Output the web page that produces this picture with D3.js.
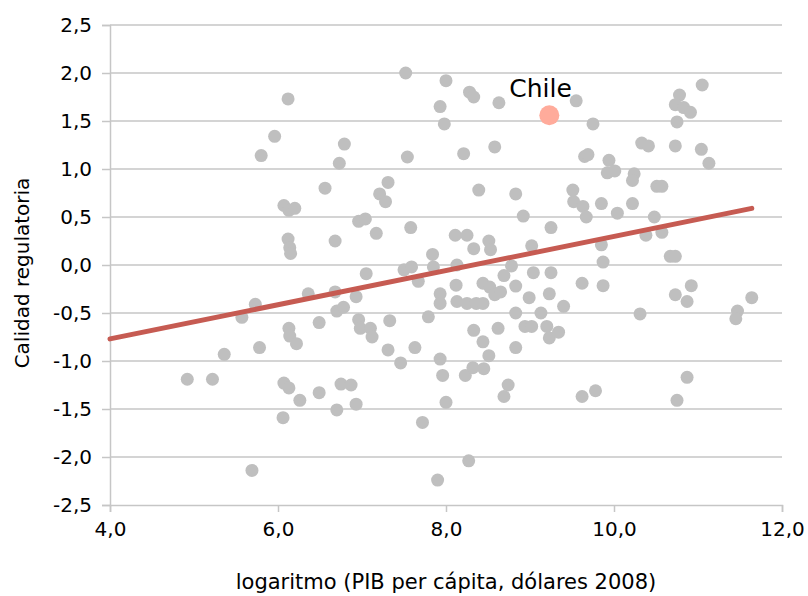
<!DOCTYPE html>
<html>
<head>
<meta charset="utf-8">
<script src="https://cdn.jsdelivr.net/npm/d3@7"></script>
<style>
  body { margin: 0; background: #fff; }
  text { font-family: "DejaVu Sans", sans-serif; fill: #000; }
</style>
</head>
<body>
<svg id="chart" width="808" height="596"></svg>
<script>
/////////////////////////////////// DONNEES ///////////////////////////////////
// log del PIB per cápita (eje x) y calidad regulatoria (eje y)
var gdpLog = [
  6.12, 5.96, 5.80, 6.79, 6.73, 6.56, 6.07, 6.13, 6.20, 6.12, 6.14, 6.15, 6.68,
  7.52, 8.00, 8.28, 8.33, 8.63, 7.93, 7.98, 7.54, 8.21, 8.58, 7.31, 7.21, 7.28,
  8.39, 8.83, 9.51, 9.52, 6.96, 7.04, 7.17, 7.58, 8.11, 8.25, 8.92, 9.25, 8.51,
  8.53, 8.33, 9.02, 7.84,
  11.05, 10.78, 10.73, 10.83, 10.91, 10.75, 9.55, 9.75, 9.65, 9.69, 10.33, 10.41,
  10.73, 11.04, 11.13, 9.94, 9.92, 10.01, 10.24, 10.22, 10.51, 10.57, 9.63, 9.67,
  9.85, 10.04, 10.22, 10.48, 10.38, 10.57, 9.85, 9.87, 10.67, 10.73,
  5.73, 5.57, 5.36, 4.92, 5.22, 5.78, 6.13, 6.14, 6.22, 6.36, 6.68, 6.70, 6.49,
  6.07, 6.13, 6.26, 6.49, 6.06, 5.69, 6.75, 6.87, 6.70, 6.93,
  7.05, 7.50, 7.59, 7.85, 8.13, 8.78, 7.67, 6.78, 6.93, 6.96, 6.98, 7.10, 7.12,
  7.33, 7.31, 7.46, 7.63, 7.79, 7.93, 7.93, 7.93, 7.96, 8.00, 7.72, 7.90, 8.27,
  8.12, 8.13, 8.25, 8.36, 8.44, 8.44, 8.52, 8.58, 8.65, 8.69, 8.83, 8.99, 9.04,
  9.25, 9.23, 9.40, 8.83, 9.13, 8.94, 9.02, 9.20, 9.23, 9.34, 8.33, 8.62, 8.44,
  8.51, 8.83, 8.23, 8.32, 8.45, 8.74, 8.69,
  9.62, 9.87, 10.31, 10.73, 10.92, 10.87, 11.47, 11.45, 11.64, 9.62, 9.78, 10.87, 10.75
];
var regQuality = [
  1.73, 1.34, 1.14, 1.26, 1.06, 0.80, 0.62, 0.57, 0.59, 0.27, 0.18, 0.12, 0.25,
  2.00, 1.92, 1.80, 1.75, 1.69, 1.65, 1.47, 1.125, 1.16, 1.23, 0.86, 0.74, 0.66,
  0.78, 0.74, 0.78, 0.66, 0.455, 0.48, 0.33, 0.39, 0.31, 0.31, 0.51, 0.39, 0.25,
  0.16, 0.17, 0.20, 0.11,
  1.875, 1.77, 1.67, 1.64, 1.59, 1.49, 1.71, 1.47, 1.13, 1.15, 1.27, 1.24,
  1.24, 1.205, 1.06, 1.09, 0.96, 0.98, 0.95, 0.88, 0.82, 0.82, 0.61, 0.50,
  0.64, 0.54, 0.64, 0.50, 0.31, 0.34, 0.21, 0.03, 0.09, 0.09,
  -0.41, -0.545, -0.93, -1.19, -1.19, -0.86, -0.66, -0.74, -0.82, -0.30, -0.28, -0.48, -0.60,
  -1.23, -1.28, -1.41, -1.33, -1.59, -2.14, -1.24, -1.25, -1.51, -1.45,
  -0.09, -0.05, -0.02, -0.02, 0.00, -0.01, -0.17, -0.44, -0.33, -0.57, -0.66, -0.66, -0.75,
  -0.58, -0.885, -1.02, -0.86, -0.54, -0.30, -0.40, -0.98, -1.15, -1.43, -1.64, -2.24, -2.04,
  -0.21, -0.38, -0.40, -0.40, -0.40, -0.19, -0.23, -0.31, -0.28, -0.11, -0.22, -0.34, -0.08,
  -0.08, -0.30, -0.43, -0.50, -0.50, -0.64, -0.64, -0.64, -0.76, -0.70, -0.68, -0.66, -0.80,
  -0.945, -0.86, -1.15, -1.07, -1.08, -1.25, -1.37,
  -0.19, -0.215, -0.51, -0.31, -0.215, -0.38, -0.48, -0.56, -0.34, -1.37, -1.31, -1.17, -1.41
];

// Chile, destacado
var chileX = 9.23;
var chileY = 1.56;
var chileLabel = "Chile";

// recta de tendencia (extremos)
var trendX = [4.0, 11.64];
var trendY = [-0.77, 0.59];

var xTicks = [4, 6, 8, 10, 12];
var yTicks = [-2.5, -2, -1.5, -1, -0.5, 0, 0.5, 1, 1.5, 2, 2.5];

var xTitle = "logaritmo (PIB per cápita, dólares 2008)";
var yTitle = "Calidad regulatoria";

/////////////////////////////////// GRAPHIQUE ///////////////////////////////////
var svg = d3.select("#chart");
var gridColor = "#c6c6c6";

var x = d3.scaleLinear().domain([4, 12]).range([110, 782]);
var y = d3.scaleLinear().domain([-2.5, 2.5]).range([505, 25]);

var fmt = function(d) { return d.toFixed(1).replace(".", ","); };

// lignes horizontales
svg.append("g")
  .selectAll("line")
  .data(yTicks.filter(function(d) { return d > -2.5; }))
  .enter()
  .append("line")
  .attr("x1", x(4))
  .attr("x2", x(12))
  .attr("y1", function(d) { return y(d); })
  .attr("y2", function(d) { return y(d); })
  .style("stroke", gridColor)
  .style("stroke-width", 1.5);

// axe y
var yAxis = svg.append("g")
  .attr("transform", "translate(" + x(4) + ",0)")
  .call(d3.axisLeft(y).tickValues(yTicks).tickFormat(fmt).tickSize(8).tickPadding(10));

// axe x
var xAxis = svg.append("g")
  .attr("transform", "translate(0," + y(-2.5) + ")")
  .call(d3.axisBottom(x).tickValues(xTicks).tickFormat(fmt).tickSize(7).tickPadding(10));

[yAxis, xAxis].forEach(function(ax) {
  ax.select(".domain").style("stroke", gridColor).style("stroke-width", 1.5);
  ax.selectAll(".tick line").style("stroke", gridColor).style("stroke-width", 1.5);
  ax.selectAll(".tick text")
    .style("font-family", "DejaVu Sans, sans-serif")
    .style("font-size", "20px")
    .style("fill", "#000");
});

// nuage de points
svg.append("g")
  .selectAll("circle")
  .data(d3.range(gdpLog.length))
  .enter()
  .append("circle")
  .attr("cx", function(i) { return x(gdpLog[i]); })
  .attr("cy", function(i) { return y(regQuality[i]); })
  .attr("r", 6.5)
  .style("fill", "#bfbfbf");

// droite de tendance
svg.append("path")
  .datum(d3.zip(trendX, trendY))
  .attr("d", d3.line()
    .x(function(d) { return x(d[0]); })
    .y(function(d) { return y(d[1]); }))
  .style("fill", "none")
  .style("stroke", "#c65b52")
  .style("stroke-width", 5)
  .style("stroke-linecap", "round");

// Chile
svg.append("circle")
  .attr("cx", x(chileX))
  .attr("cy", y(chileY))
  .attr("r", 10)
  .style("fill", "#ffab9b");

svg.append("text")
  .attr("x", x(chileX) - 40)
  .attr("y", y(chileY) - 18)
  .style("font-size", "25px")
  .text(chileLabel);

// titres des axes
svg.append("text")
  .attr("x", (x(4) + x(12)) / 2)
  .attr("y", 589)
  .attr("text-anchor", "middle")
  .style("font-size", "21px")
  .text(xTitle);

svg.append("text")
  .attr("transform", "translate(29,273) rotate(-90)")
  .attr("text-anchor", "middle")
  .style("font-size", "20px")
  .text(yTitle);
</script>
</body>
</html>
